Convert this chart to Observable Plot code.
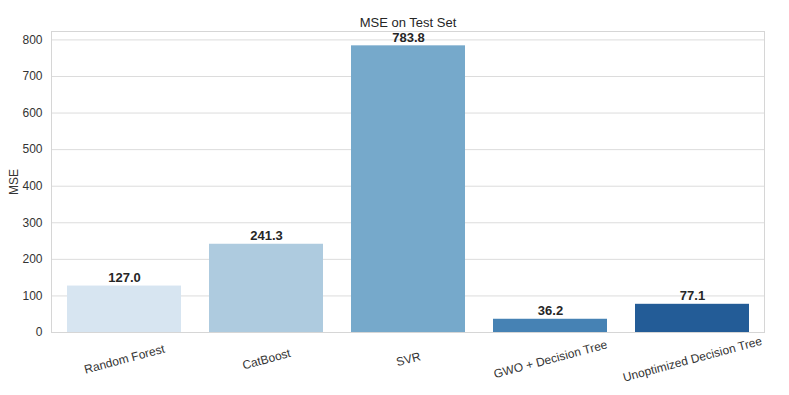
<!DOCTYPE html>
<html>
<head>
<meta charset="utf-8">
<script src="https://cdn.jsdelivr.net/npm/d3@7"></script>
<script src="https://cdn.jsdelivr.net/npm/@observablehq/plot@0.6"></script>
<style>
  html, body { margin: 0; padding: 0; background: #fff; }
  #chart { width: 789px; height: 395px; }
</style>
</head>
<body>
<div id="chart"></div>
<script>
const models = ["Random Forest", "CatBoost", "SVR", "GWO + Decision Tree", "Unoptimized Decision Tree"];
const mse = [127.0, 241.3, 783.8, 36.2, 77.1];
const colors = ["#d7e5f1", "#aecbdf", "#76a9cb", "#4682b4", "#235c97"];
const yTicks = [0, 100, 200, 300, 400, 500, 600, 700, 800];
const title = "MSE on Test Set";

const data = models.map((m, i) => ({model: m, mse: mse[i], color: colors[i]}));

const chart = Plot.plot({
  width: 789,
  height: 395,
  marginLeft: 51,
  marginRight: 25,
  marginTop: 31,
  marginBottom: 63,
  style: {fontFamily: "'Liberation Sans', Arial, sans-serif", fontSize: "12px", color: "#333", background: "#fff"},
  x: {domain: models, paddingInner: 0.2, paddingOuter: 0.1, label: null},
  y: {domain: [0, 823], ticks: yTicks, label: "MSE"},
  marks: [
    Plot.gridY(yTicks, {stroke: "#dcdcdc", strokeOpacity: 1}),
    Plot.barY(data, {x: "model", y: "mse", fill: "color"}),
    Plot.text(data, {x: "model", y: "mse", text: d => d.mse.toFixed(1), dy: -8, fontWeight: "bold", fontSize: 13, fill: "#262626"}),
    Plot.frame({stroke: "#d6d6d6"}),
    Plot.axisY({ticks: yTicks, tickSize: 0, tickPadding: 9, fontSize: 12, fill: "#333",
      label: "MSE", labelAnchor: "center", labelArrow: "none", labelOffset: 42}),
    Plot.axisX({tickSize: 0, tickRotate: -15, textAnchor: "middle", lineAnchor: "middle", dy: 14, fontSize: 12, fill: "#333", label: null}),
    Plot.text([title], {frameAnchor: "top", dy: -14, text: d => d, fontSize: 13, fill: "#262626"})
  ]
});
document.getElementById("chart").appendChild(chart);
</script>
</body>
</html>
